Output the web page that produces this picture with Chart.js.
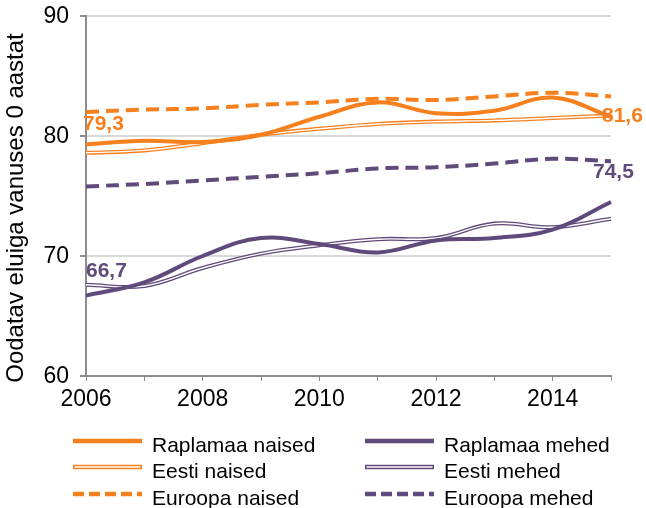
<!DOCTYPE html>
<html>
<head>
<meta charset="utf-8">
<script src="https://cdn.jsdelivr.net/npm/chart.js@4"></script>
<style>
  html, body { margin: 0; padding: 0; background: #fff; }
  #wrap { width: 646px; height: 508px; }
</style>
</head>
<body>
<div id="wrap"><canvas id="lifeChart" width="646" height="508"></canvas></div>
<script>
const ORANGE = "#F7801E";
const PURPLE = "#604A7B";
const FONT = "'Liberation Sans', Arial, sans-serif";

const years = [2006, 2007, 2008, 2009, 2010, 2011, 2012, 2013, 2014, 2015];
const yTicks = [60, 70, 80, 90];
const yTitle = "Oodatav eluiga vanuses 0 aastat";

const raplaNaised = [79.3, 79.6, 79.5, 80.1, 81.6, 82.8, 81.9, 82.1, 83.2, 81.6];
const eestiNaised = [78.6, 78.8, 79.4, 80.1, 80.6, 81.0, 81.2, 81.3, 81.5, 81.7];
const euroopaNaised = [82.0, 82.2, 82.3, 82.6, 82.8, 83.1, 83.0, 83.3, 83.6, 83.3];
const raplaMehed = [66.7, 67.8, 70.0, 71.5, 71.0, 70.3, 71.3, 71.5, 72.2, 74.5];
const eestiMehed = [67.6, 67.5, 69.0, 70.2, 70.9, 71.4, 71.5, 72.7, 72.4, 73.1];
const euroopaMehed = [75.8, 76.0, 76.3, 76.6, 76.9, 77.3, 77.4, 77.7, 78.1, 77.9];

function makeSet(label, data, color, style) {
  return {
    label,
    data,
    borderColor: color,
    backgroundColor: color,
    borderWidth: 4,
    borderDash: style === "dash" ? [13, 7] : [],
    pointRadius: 0,
    fill: false,
    tension: 0.4,
    lineStyle: style,
  };
}

// white core for the "double" lines
const doubleLinePlugin = {
  id: "doubleLine",
  afterDatasetDraw(chart, args) {
    const ds = chart.data.datasets[args.index];
    if (ds.lineStyle !== "double") return;
    const ctx = chart.ctx;
    ctx.save();
    ctx.beginPath();
    args.meta.dataset.path(ctx);
    ctx.strokeStyle = "#fff";
    ctx.lineWidth = 1.4;
    ctx.setLineDash([]);
    ctx.stroke();
    ctx.restore();
  },
};

function fmt(v) {
  return v.toFixed(1).replace(".", ",");
}

const valueLabelPlugin = {
  id: "valueLabels",
  afterDatasetsDraw(chart) {
    const ctx = chart.ctx;
    const marks = [
      { ds: 0, idx: 0, dx: -3, dy: -20 },
      { ds: 0, idx: years.length - 1, dx: -9, dy: -1 },
      { ds: 3, idx: 0, dx: 0, dy: -24 },
      { ds: 3, idx: years.length - 1, dx: -18, dy: -30 },
    ];
    ctx.save();
    ctx.font = "bold 21px " + FONT;
    ctx.textAlign = "left";
    ctx.textBaseline = "middle";
    marks.forEach((m) => {
      const ds = chart.data.datasets[m.ds];
      const pt = chart.getDatasetMeta(m.ds).data[m.idx];
      ctx.fillStyle = ds.borderColor;
      ctx.fillText(fmt(ds.data[m.idx]), pt.x + m.dx, pt.y + m.dy);
    });
    ctx.restore();
  },
};

// y axis: tick marks, tick labels and rotated title
const yAxisPlugin = {
  id: "yAxisText",
  afterDraw(chart) {
    const ctx = chart.ctx;
    const ys = chart.scales.y;
    const left = chart.chartArea.left;
    ctx.save();
    ctx.strokeStyle = "#8C8C8C";
    ctx.lineWidth = 2;
    ctx.fillStyle = "#000";
    ctx.font = "23px " + FONT;
    ctx.textAlign = "right";
    ctx.textBaseline = "middle";
    yTicks.forEach((v) => {
      const py = ys.getPixelForValue(v);
      ctx.beginPath();
      ctx.moveTo(left - 6, py);
      ctx.lineTo(left, py);
      ctx.stroke();
      ctx.fillText(String(v), left - 17, py + 1);
    });
    ctx.translate(16, 208);
    ctx.rotate(-Math.PI / 2);
    ctx.font = "24px " + FONT;
    ctx.textAlign = "center";
    ctx.fillText(yTitle, 0, 0);
    ctx.restore();
  },
};

const legendPlugin = {
  id: "sideLegend",
  afterDraw(chart) {
    const ctx = chart.ctx;
    const cols = [73, 365];
    const rows = [441, 467, 494];
    const lineLen = 69;
    ctx.save();
    ctx.font = "21px " + FONT;
    ctx.textBaseline = "middle";
    ctx.textAlign = "left";
    chart.data.datasets.forEach((ds, i) => {
      const col = i < 3 ? 0 : 1;
      const row = i % 3;
      const x = cols[col];
      const y = rows[row];
      ctx.beginPath();
      ctx.moveTo(x, y);
      ctx.lineTo(x + lineLen, y);
      ctx.strokeStyle = ds.borderColor;
      ctx.lineWidth = 4.5;
      ctx.setLineDash(ds.lineStyle === "dash" ? [11, 5] : []);
      ctx.stroke();
      if (ds.lineStyle === "double") {
        ctx.beginPath();
        ctx.moveTo(x + 1.5, y);
        ctx.lineTo(x + lineLen - 1.5, y);
        ctx.strokeStyle = "#fff";
        ctx.lineWidth = 1.5;
        ctx.stroke();
      }
      ctx.setLineDash([]);
      ctx.fillStyle = "#000";
      ctx.fillText(ds.label, x + lineLen + 10, y + 5);
    });
    ctx.restore();
  },
};

const ctx = document.getElementById("lifeChart").getContext("2d");

new Chart(ctx, {
  type: "line",
  data: {
    labels: years,
    datasets: [
      makeSet("Raplamaa naised", raplaNaised, ORANGE, "solid"),
      makeSet("Eesti naised", eestiNaised, ORANGE, "double"),
      makeSet("Euroopa naised", euroopaNaised, ORANGE, "dash"),
      makeSet("Raplamaa mehed", raplaMehed, PURPLE, "solid"),
      makeSet("Eesti mehed", eestiMehed, PURPLE, "double"),
      makeSet("Euroopa mehed", euroopaMehed, PURPLE, "dash"),
    ],
  },
  options: {
    responsive: false,
    animation: false,
    layout: { padding: { left: 0, right: 35, top: 16, bottom: 100 } },
    scales: {
      x: {
        type: "category",
        offset: false,
        grid: {
          display: true,
          drawOnChartArea: false,
          drawTicks: true,
          tickLength: 5,
          tickColor: "#8C8C8C",
          offset: false,
        },
        border: { color: "#8C8C8C", width: 2 },
        ticks: {
          autoSkip: false,
          maxRotation: 0,
          padding: 5,
          color: "#000",
          font: { family: FONT, size: 23 },
          callback: function (val, idx) {
            return idx % 2 === 0 ? String(this.getLabelForValue(val)) : "";
          },
        },
        afterFit: (s) => { s.height = 32; },
      },
      y: {
        min: yTicks[0],
        max: yTicks[yTicks.length - 1],
        afterBuildTicks: (s) => { s.ticks = yTicks.map((v) => ({ value: v })); },
        grid: {
          color: (c) => (c.tick && c.tick.value === yTicks[0] ? "rgba(0,0,0,0)" : "#D9D9D9"),
          lineWidth: 2,
          drawTicks: false,
        },
        border: { color: "#8C8C8C", width: 2 },
        ticks: { display: false },
        afterFit: (s) => { s.width = 86; },
      },
    },
    plugins: {
      legend: { display: false },
      tooltip: { enabled: false },
    },
  },
  plugins: [doubleLinePlugin, valueLabelPlugin, yAxisPlugin, legendPlugin],
});
</script>
</body>
</html>
